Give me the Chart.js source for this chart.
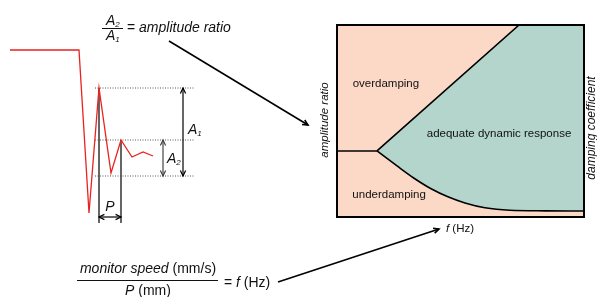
<!DOCTYPE html>
<html>
<head>
<meta charset="utf-8">
<script src="https://cdn.jsdelivr.net/npm/chart.js@4.4.1/dist/chart.umd.min.js"></script>
<style>
  html, body { margin: 0; padding: 0; background: #fff; }
  #wrap { position: relative; width: 597px; height: 297px; overflow: hidden; }
  canvas { position: absolute; left: 0; top: 0; }
</style>
</head>
<body>
<div id="wrap">
  <canvas id="regions" width="597" height="297"></canvas>
  <canvas id="trace" width="230" height="297"></canvas>
</div>
<script>
// damping regions (f on x, amplitude ratio on y, both 0-100)
const splitF = [0, 16.2];
const splitA = [34.4, 34.4];
const upperF = [16.2, 73.7, 100];
const upperA = [34.4, 100, 100];
const lowerF = [16.2, 24.3, 31.2, 38.1, 44.9, 51.8, 59.9, 70.0, 84.2, 100];
const lowerA = [34.4, 26.6, 20.2, 14.7, 10.5, 7.3, 4.8, 3.5, 3.2, 3.1];

// pressure trace after a fast flush
const sigTime = [0, 6.9, 7.9, 8.9, 10.1, 11.1, 12.2, 13.3, 14.3];
const sigValue = [80, 80, -83, 42, -43, -10, -27, -22, -26];
const peakTimes = [8.9, 11.1];
const peakValues = [42, -10];
const troughLevel = -46;

const FONT = '"Liberation Sans", Arial, sans-serif';
const PEACH = '#fcd9c6';
const TEAL = '#b3d5cc';

const pts = (xs, ys) => xs.map((x, i) => ({ x: x, y: ys[i] }));

function arrowHead(ctx, x, y, ang, size) {
  ctx.beginPath();
  ctx.moveTo(x - size * Math.cos(ang - 0.45), y - size * Math.sin(ang - 0.45));
  ctx.lineTo(x, y);
  ctx.lineTo(x - size * Math.cos(ang + 0.45), y - size * Math.sin(ang + 0.45));
  ctx.stroke();
}

function arrow(ctx, x1, y1, x2, y2, both, color, width) {
  ctx.save();
  ctx.strokeStyle = color;
  ctx.lineWidth = width;
  ctx.beginPath();
  ctx.moveTo(x1, y1);
  ctx.lineTo(x2, y2);
  ctx.stroke();
  const ang = Math.atan2(y2 - y1, x2 - x1);
  arrowHead(ctx, x2, y2, ang, 6);
  if (both) arrowHead(ctx, x1, y1, ang + Math.PI, 6);
  ctx.restore();
}

// runs: [text, italic, size, dy]
function runs(ctx, parts, x, y, align) {
  ctx.save();
  ctx.textBaseline = 'middle';
  ctx.textAlign = 'left';
  ctx.fillStyle = '#111';
  let total = 0;
  parts.forEach(p => {
    ctx.font = (p[1] ? 'italic ' : '') + p[2] + 'px ' + FONT;
    total += ctx.measureText(p[0]).width;
  });
  let cx = align === 'center' ? x - total / 2 : x;
  parts.forEach(p => {
    ctx.font = (p[1] ? 'italic ' : '') + p[2] + 'px ' + FONT;
    ctx.fillText(p[0], cx, y + (p[3] || 0));
    cx += ctx.measureText(p[0]).width;
  });
  ctx.restore();
  return total;
}

function rotated(ctx, text, x, y, size) {
  ctx.save();
  ctx.translate(x, y);
  ctx.rotate(-Math.PI / 2);
  ctx.font = 'italic ' + size + 'px ' + FONT;
  ctx.fillStyle = '#111';
  ctx.textAlign = 'center';
  ctx.textBaseline = 'middle';
  ctx.fillText(text, 0, 0);
  ctx.restore();
}

const boxPlugin = {
  id: 'box',
  beforeDatasetsDraw(chart) {
    const a = chart.chartArea, ctx = chart.ctx;
    ctx.save();
    ctx.fillStyle = PEACH;
    ctx.fillRect(a.left, a.top, a.right - a.left, a.bottom - a.top);
    ctx.restore();
  },
  afterDatasetsDraw(chart) {
    const a = chart.chartArea, ctx = chart.ctx;
    ctx.save();
    ctx.strokeStyle = '#000';
    ctx.lineWidth = 2;
    ctx.strokeRect(a.left, a.top, a.right - a.left, a.bottom - a.top);
    ctx.restore();
  },
  afterDraw(chart) {
    const ctx = chart.ctx;
    const sx = chart.scales.x, sy = chart.scales.y;
    // region names
    runs(ctx, [['overdamping', false, 11.5]], sx.getPixelForValue(19.8), sy.getPixelForValue(69.3), 'center');
    runs(ctx, [['adequate dynamic response', false, 11.5]], sx.getPixelForValue(65.6), sy.getPixelForValue(43.2), 'center');
    runs(ctx, [['underdamping', false, 11.5]], sx.getPixelForValue(21.1), sy.getPixelForValue(11.5), 'center');
    // axis names
    rotated(ctx, 'amplitude ratio', 325, 120, 11.5);
    rotated(ctx, 'damping coefficient', 592, 128, 12);
    runs(ctx, [['f', true, 11.5], [' (Hz)', false, 11.5]], 460, 229, 'center');

    // A2 / A1 = amplitude ratio
    runs(ctx, [['A', true, 14], ['2', true, 8, 4]], 106, 21, 'left');
    runs(ctx, [['A', true, 14], ['1', true, 8, 4]], 106, 36, 'left');
    ctx.save();
    ctx.strokeStyle = '#111';
    ctx.lineWidth = 1;
    ctx.beginPath();
    ctx.moveTo(102, 28.5); ctx.lineTo(123, 28.5);
    ctx.moveTo(77, 280.5); ctx.lineTo(218, 280.5);
    ctx.stroke();
    ctx.restore();
    runs(ctx, [['= ', false, 14], ['amplitude ratio', true, 14]], 127, 28, 'left');

    // monitor speed / P = f
    runs(ctx, [['monitor speed', true, 14], [' (mm/s)', false, 14]], 148, 269, 'center');
    runs(ctx, [['P', true, 14], [' (mm)', false, 14]], 148, 291, 'center');
    runs(ctx, [['= ', false, 14], ['f', true, 14], [' (Hz)', false, 14]], 224, 283, 'left');

    arrow(ctx, 169, 41, 308, 125, false, '#000', 1.6);
    arrow(ctx, 278, 282, 439, 229, false, '#000', 1.6);
  }
};

new Chart(document.getElementById('regions'), {
  type: 'line',
  data: {
    datasets: [
      {
        label: 'split',
        data: pts(splitF, splitA),
        borderColor: '#000',
        borderWidth: 1.6,
        pointRadius: 0,
        fill: false,
        order: 0,
      },
      {
        label: 'underdamping',
        data: pts(lowerF, lowerA),
        borderColor: '#000',
        borderWidth: 1.6,
        backgroundColor: PEACH,
        fill: 'start',
        cubicInterpolationMode: 'monotone',
        pointRadius: 0,
        order: 1,
      },
      {
        label: 'adequate',
        data: pts(upperF, upperA),
        borderColor: '#000',
        borderWidth: 1.6,
        backgroundColor: TEAL,
        fill: 'start',
        pointRadius: 0,
        order: 2,
      },
    ],
  },
  options: {
    responsive: false,
    animation: false,
    events: [],
    layout: { padding: { left: 337, top: 25, right: 13, bottom: 80 } },
    scales: {
      x: { type: 'linear', min: 0, max: 100, display: false },
      y: { min: 0, max: 100, display: false },
    },
    plugins: { legend: { display: false }, tooltip: { enabled: false } },
  },
  plugins: [boxPlugin],
});

const tracePlugin = {
  id: 'marks',
  afterDatasetsDraw(chart) {
    const ctx = chart.ctx;
    const sx = chart.scales.x, sy = chart.scales.y;
    const yA1 = sy.getPixelForValue(peakValues[0]);
    const yA2 = sy.getPixelForValue(peakValues[1]);
    const yLow = sy.getPixelForValue(troughLevel);
    const xA1 = sx.getPixelForValue(17.3);
    const xA2 = sx.getPixelForValue(15.3);
    arrow(ctx, xA1, yA1, xA1, yLow, true, '#000', 1.2);
    arrow(ctx, xA2, yA2, xA2, yLow, true, '#444', 1.2);
    const yP = sy.getPixelForValue(-87);
    arrow(ctx, sx.getPixelForValue(peakTimes[0]), yP, sx.getPixelForValue(peakTimes[1]), yP, true, '#000', 1.2);
    runs(ctx, [['A', true, 14], ['1', true, 8, 4]], xA1 + 5, (yA1 + yLow) / 2 - 2, 'left');
    runs(ctx, [['A', true, 14], ['2', true, 8, 4]], xA2 + 4, (yA2 + yLow) / 2 + 1, 'left');
    runs(ctx, [['P', true, 14]], (sx.getPixelForValue(peakTimes[0]) + sx.getPixelForValue(peakTimes[1])) / 2, yP - 10, 'center');
  }
};

const guides = [peakValues[0], peakValues[1], troughLevel].map(v => ({
  data: [{ x: 8.5, y: v }, { x: 18.4, y: v }],
  borderColor: '#555',
  borderWidth: 1,
  borderDash: [1, 1.5],
  pointRadius: 0,
}));
const markers = peakTimes.map((t, i) => ({
  data: [{ x: t, y: peakValues[i] }, { x: t, y: -93 }],
  borderColor: '#000',
  borderWidth: 1.2,
  pointRadius: 0,
}));

new Chart(document.getElementById('trace'), {
  type: 'line',
  data: {
    datasets: [
      {
        data: pts(sigTime, sigValue),
        borderColor: '#e8231f',
        borderWidth: 1.3,
        pointRadius: 0,
        tension: 0,
      },
      ...guides,
      ...markers,
    ],
  },
  options: {
    responsive: false,
    animation: false,
    events: [],
    layout: { padding: { left: 10, top: 40, right: 30, bottom: 67 } },
    scales: {
      x: { type: 'linear', min: 0, max: 19, display: false },
      y: { min: -100, max: 90, display: false },
    },
    plugins: { legend: { display: false }, tooltip: { enabled: false } },
  },
  plugins: [tracePlugin],
});
</script>
</body>
</html>
